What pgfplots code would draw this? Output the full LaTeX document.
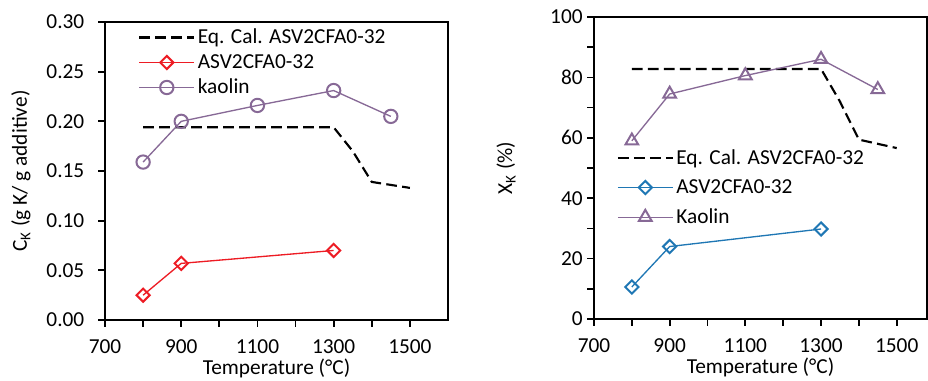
\documentclass[border=0pt]{standalone}
\usepackage{pgfplots}
\pgfplotsset{compat=1.18}
\usepackage{fontspec}
\setmainfont{Carlito}
\definecolor{cred}{RGB}{237,28,36}
\definecolor{cpurp}{RGB}{135,105,150}
\definecolor{cblue}{RGB}{31,119,180}
\pgfplotsset{
  every axis/.append style={
    scale only axis,
    font=\fontsize{16}{19}\selectfont,
    /pgf/number format/assume math mode=true,
    axis line style={line width=1.5pt},
    tick style={line width=1.3pt,black},
    tick align=outside,
    xtick pos=bottom, ytick pos=left,
    major tick length=5pt, minor tick length=5pt,
    xmin=700,
    xtick={700,900,1100,1300,1500},
    minor xtick={800,1000,1200,1400},
    xticklabel style={/pgf/number format/set thousands separator={}, yshift=-6pt},
    xlabel={Temperature (°C)},
    xlabel style={yshift=3pt},
    legend cell align=left,
    legend image code/.code={\draw[mark repeat=2,mark phase=2] plot coordinates {(0cm,0cm) (0.72cm,0cm) (1.44cm,0cm)};},
  },
  eqline/.style={black, line width=1.6pt, dash pattern=on 8pt off 4pt, no marks},
  dmark/.style={mark=square, mark size=3.5pt, mark options={solid, rotate=45, line width=1.5pt, fill=white}},
}
\begin{document}
\begin{tikzpicture}
\useasboundingbox (0,0) rectangle (696pt,285pt);
\begin{axis}[
  at={(78.75pt,45pt)}, anchor=south west,
  width=257.25pt, height=223.5pt,
  xmax=1600, ymin=0, ymax=0.30,
  ytick={0,0.05,...,0.301},
  yticklabel style={xshift=-7pt,/pgf/number format/.cd,fixed,fixed zerofill,precision=2},
  ylabel={C\textsubscript{K} (g K/ g additive)},
  ylabel style={yshift=5pt},
  legend style={draw=none, fill=none, font=\fontsize{16}{19}\selectfont, at={(0.085,0.995)}, anchor=north west, row sep=2.5pt},
]
\addplot[eqline] coordinates {(800,0.194) (1300,0.194) (1350,0.17) (1400,0.139) (1500,0.133)};
\addlegendentry{Eq. Cal. ASV2CFA0-32}
\addplot[cred, line width=1pt, dmark] coordinates {(800,0.025) (900,0.057) (1300,0.070)};
\addlegendentry{ASV2CFA0-32}
\addplot[cpurp, line width=1pt, mark=o, mark size=5pt, mark options={solid, line width=1.5pt, fill=white}] coordinates {(800,0.159) (900,0.200) (1100,0.216) (1300,0.231) (1450,0.205)};
\addlegendentry{kaolin}
\end{axis}
\begin{axis}[
  at={(445.5pt,45.75pt)}, anchor=south west,
  width=249.75pt, height=226.5pt,
  xmax=1580, ymin=0, ymax=100,
  ytick={0,20,...,100},
  minor ytick={10,30,...,90},
  ylabel={X\textsubscript{K} (\%)},
  ylabel style={yshift=19pt},
  legend style={draw=none, fill=none, font=\fontsize{16}{19}\selectfont, at={(0.056,0.58)}, anchor=north west, row sep=6pt},
]
\addplot[eqline] coordinates {(800,82.8) (1300,82.8) (1350,72) (1400,59.4) (1500,56.6)};
\addlegendentry{Eq. Cal. ASV2CFA0-32}
\addplot[cblue, line width=1pt, dmark] coordinates {(800,10.6) (900,24.0) (1300,29.8)};
\addlegendentry{ASV2CFA0-32}
\addplot[cpurp, line width=1pt, mark=triangle, mark size=5.5pt, mark options={solid, line width=1.5pt, fill=white}] coordinates {(800,59.0) (900,74.5) (1100,80.6) (1300,86.0) (1450,76.0)};
\addlegendentry{Kaolin}
\end{axis}
\end{tikzpicture}
\end{document}
